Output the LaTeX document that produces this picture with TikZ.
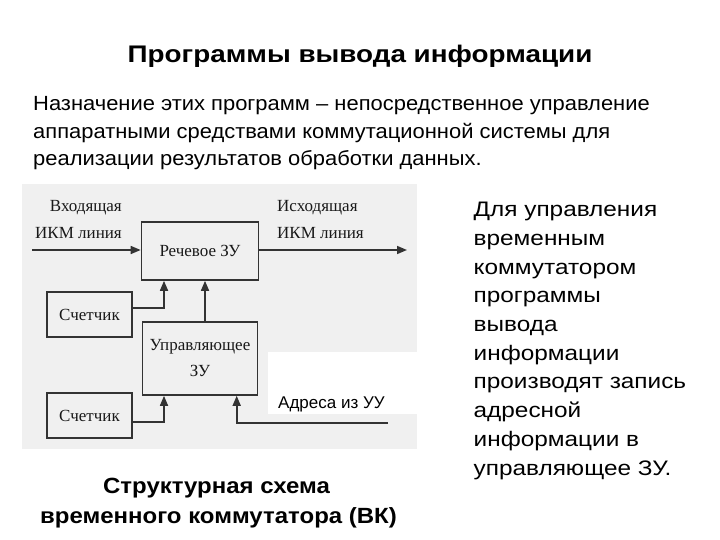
\documentclass[tikz,border=0pt]{standalone}
\usepackage{fontspec}
\setmainfont{Liberation Sans}
\newfontfamily\scanfont{Liberation Serif}
\newfontfamily\titlefont[FakeStretch=1.16]{Liberation Sans}
\newfontfamily\parfont[FakeStretch=1.07]{Liberation Sans}
\newfontfamily\rtfont[FakeStretch=1.16]{Liberation Sans}
\newfontfamily\capfont[FakeStretch=1.09]{Liberation Sans}
\usetikzlibrary{arrows.meta}
\begin{document}
\begin{tikzpicture}[x=1pt,y=-1pt,
  box/.style={draw=black!80, line width=1.6pt, inner sep=0pt, text=black!90},
  conn/.style={draw=black!80, line width=1.6pt, -{Triangle[length=10pt,width=8pt]}},
  lbl/.style={font=\scanfont\fontsize{17}{20}\selectfont, text=black!90, inner sep=0pt},
  ttltxt/.style={font=\titlefont\bfseries\fontsize{24}{28}\selectfont, inner sep=0pt},
  partxt/.style={font=\parfont\fontsize{20.5}{24}\selectfont, inner sep=0pt, anchor=base west},
  rttxt/.style={font=\rtfont\fontsize{21}{24}\selectfont, inner sep=0pt, anchor=base west},
  captxt/.style={font=\capfont\bfseries\fontsize{22}{26}\selectfont, inner sep=0pt, anchor=base}]
\useasboundingbox (0,0) rectangle (720,540);
% scanned area
\fill[black!6] (22,184) rectangle (417,449);
\fill[white] (268,352) rectangle (417,414);
% title and paragraph
\node[ttltxt, anchor=base] (title) at (360,63) {Программы вывода информации};
\node[partxt] (p1) at (33,111) {Назначение этих программ – непосредственное управление};
\node[partxt] (p2) at (33,138.5) {аппаратными средствами коммутационной системы для};
\node[partxt] (p3) at (33,166) {реализации результатов обработки данных.};
% boxes
\node[box, minimum width=117pt, minimum height=58pt, font=\scanfont\fontsize{17}{20}\selectfont] (rech) at (200,251) {Речевое ЗУ};
\node[box, minimum width=115pt, minimum height=73pt, align=center, font=\scanfont\fontsize{17}{26}\selectfont] (upr) at (200,358.5) {Управляющее\\ЗУ};
\node[box, minimum width=85pt, minimum height=45pt, font=\scanfont\fontsize{17}{20}\selectfont] (cnt1) at (89.5,314.5) {Счетчик};
\node[box, minimum width=85pt, minimum height=45pt, font=\scanfont\fontsize{17}{20}\selectfont] (cnt2) at (89.5,415.5) {Счетчик};
% line labels
\node[lbl, anchor=base east] (vx1) at (122,211.7) {Входящая};
\node[lbl, anchor=base east] (vx2) at (122,238.3) {ИКМ линия};
\node[lbl, anchor=base west] (ish1) at (277,211.7) {Исходящая};
\node[lbl, anchor=base west] (ish2) at (277,238.3) {ИКМ линия};
\node[font=\fontsize{17}{20}\selectfont, inner sep=0pt, anchor=base west] (adr) at (278,408) {Адреса из УУ};
% connectors
\coordinate (in) at (32,250);
\coordinate (out) at (407,250);
\coordinate (addr) at (388,422.7);
\draw[conn] (in) -- (rech.west |- in);
\draw[conn] (rech.east |- out) -- (out);
\draw[conn] ([yshift=6.5pt]cnt1.east) -| ([xshift=-36pt]rech.south);
\draw[conn] ([xshift=5pt]upr.north) -- ([xshift=5pt]rech.south);
\draw[conn] ([yshift=-6.2pt]cnt2.east) -| ([xshift=-36pt]upr.south);
\draw[conn] (addr) -| ([xshift=36.7pt]upr.south);
% right text
\foreach \t [count=\i] in {Для управления, временным, коммутатором, программы, вывода, информации, производят запись, адресной, информации в, управляющее ЗУ.}
  \node[rttxt] (r\i) at (473.5,{216.7+28.7*(\i-1)}) {\t};
% caption
\node[captxt] (c1) at (216.5,493) {Структурная схема};
\node[captxt] (c2) at (218.5,523) {временного коммутатора (ВК)};
\end{tikzpicture}
\end{document}
